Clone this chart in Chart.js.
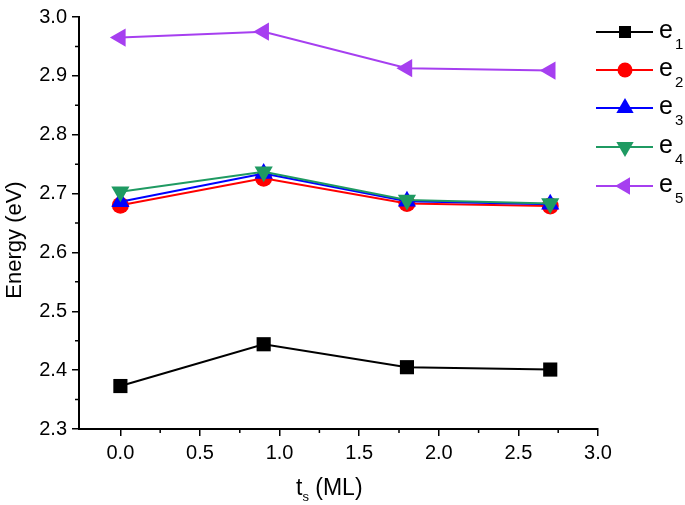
<!DOCTYPE html>
<html lang="en">
<head>
    <meta charset="UTF-8">
    <title>Energy vs ts</title>
    <script src="https://cdn.jsdelivr.net/npm/chart.js"></script>
    <style>
        body {
            margin: 0;
            padding: 0;
            background: white;
        }
        .chart-box {
            width: 685px;
            height: 505px;
        }
    </style>
</head>
<body>
    <div class="chart-box">
        <canvas id="energyChart" width="685" height="505"></canvas>
    </div>

    <script>
        // values
        const thickness = [0.0, 0.9, 1.8, 2.7];
        const e1 = [2.373, 2.444, 2.405, 2.401];
        const e2 = [2.680, 2.726, 2.683, 2.679];
        const e3 = [2.686, 2.734, 2.687, 2.682];
        const e4 = [2.703, 2.737, 2.689, 2.683];
        const e5 = [2.965, 2.975, 2.913, 2.909];
        const seriesNames = ['1', '2', '3', '4', '5'];
        const xTicks = [0.0, 0.5, 1.0, 1.5, 2.0, 2.5, 3.0];
        const yTicks = [2.3, 2.4, 2.5, 2.6, 2.7, 2.8, 2.9, 3.0];

        const FONT = 'Arial, "Liberation Sans", sans-serif';

        function points(ys) {
            return thickness.map((x, i) => ({ x: x, y: ys[i] }));
        }

        const styles = [
            { color: '#000000', pointStyle: 'rect', rotation: 0, radius: 10, legendRadius: 8.5, order: 4 },
            { color: '#ff0000', pointStyle: 'circle', rotation: 0, radius: 8.5, legendRadius: 7.5, order: 3 },
            { color: '#0000ff', pointStyle: 'triangle', rotation: 0, radius: 10.5, legendRadius: 10, order: 2 },
            { color: '#1f9a62', pointStyle: 'triangle', rotation: 180, radius: 10.5, legendRadius: 10, order: 1 },
            { color: '#a63ff0', pointStyle: 'triangle', rotation: -90, radius: 10.5, legendRadius: 10, order: 0 }
        ];

        const allSeries = [e1, e2, e3, e4, e5];

        const datasets = allSeries.map((ys, i) => ({
            label: 'e' + seriesNames[i],
            data: points(ys),
            borderColor: styles[i].color,
            backgroundColor: styles[i].color,
            borderWidth: 2,
            pointStyle: styles[i].pointStyle,
            rotation: styles[i].rotation,
            pointRadius: styles[i].radius,
            pointBorderWidth: 0,
            order: styles[i].order,
            tension: 0
        }));

        // minor ticks, axis titles with subscripts, and the legend
        const extras = {
            id: 'extras',
            afterDraw(chart) {
                const ctx = chart.ctx;
                const xs = chart.scales.x;
                const ys = chart.scales.y;
                const area = chart.chartArea;
                ctx.save();
                ctx.strokeStyle = '#000';
                ctx.lineWidth = 1.5;
                ctx.beginPath();
                for (let v = 0.25; v < 3; v += 0.5) {
                    const px = xs.getPixelForValue(v);
                    ctx.moveTo(px, area.bottom);
                    ctx.lineTo(px, area.bottom + 4);
                }
                for (let v = 2.35; v < 3; v += 0.1) {
                    const py = ys.getPixelForValue(v);
                    ctx.moveTo(area.left, py);
                    ctx.lineTo(area.left - 4, py);
                }
                ctx.stroke();

                // x title: t_s (ML)
                ctx.fillStyle = '#000';
                ctx.textBaseline = 'alphabetic';
                ctx.textAlign = 'left';
                ctx.font = '23px ' + FONT;
                const tx = 296, ty = 495;
                ctx.fillText('t', tx, ty);
                const tw = ctx.measureText('t').width;
                ctx.font = '13px ' + FONT;
                ctx.fillText('s', tx + tw, ty + 6);
                const sw = ctx.measureText('s').width;
                ctx.font = '23px ' + FONT;
                ctx.fillText(' (ML)', tx + tw + sw, ty);

                // y title
                ctx.save();
                ctx.translate(21, 240);
                ctx.rotate(-Math.PI / 2);
                ctx.textAlign = 'center';
                ctx.font = '22px ' + FONT;
                ctx.fillText('Energy (eV)', 0, 0);
                ctx.restore();

                // legend
                const rowY = [32, 70, 108, 147, 186];
                datasets.forEach((ds, i) => {
                    const y = rowY[i];
                    ctx.strokeStyle = ds.borderColor;
                    ctx.lineWidth = 2;
                    ctx.beginPath();
                    ctx.moveTo(596, y);
                    ctx.lineTo(653, y);
                    ctx.stroke();
                    ctx.fillStyle = ds.backgroundColor;
                    Chart.helpers.drawPoint(ctx, {
                        pointStyle: ds.pointStyle,
                        rotation: ds.rotation,
                        radius: styles[i].legendRadius,
                        borderWidth: 0
                    }, 625, y);
                    ctx.fillStyle = '#000';
                    ctx.font = '25px ' + FONT;
                    ctx.fillText('e', 659, y + 6);
                    ctx.font = '15px ' + FONT;
                    ctx.fillText(seriesNames[i], 675, y + 17);
                });
                ctx.restore();
            }
        };

        new Chart(document.getElementById('energyChart'), {
            type: 'line',
            data: { datasets: datasets },
            options: {
                responsive: false,
                animation: false,
                layout: { padding: { top: 10, right: 87, left: 0, bottom: 0 } },
                plugins: {
                    legend: { display: false },
                    tooltip: { enabled: false }
                },
                scales: {
                    x: {
                        type: 'linear',
                        min: -0.26,
                        max: 3.0,
                        afterBuildTicks: (scale) => {
                            scale.ticks = xTicks.map(v => ({ value: v }));
                        },
                        afterFit: (scale) => { scale.height = 76; },
                        ticks: {
                            color: '#000',
                            font: { family: FONT, size: 20 },
                            padding: 5,
                            maxRotation: 0,
                            callback: (v) => Number(v).toFixed(1)
                        },
                        grid: {
                            drawOnChartArea: false,
                            drawTicks: true,
                            tickLength: 7,
                            color: '#000',
                            lineWidth: 1.5
                        },
                        border: { display: true, color: '#000', width: 2 }
                    },
                    y: {
                        type: 'linear',
                        min: 2.3,
                        max: 3.0,
                        afterBuildTicks: (scale) => {
                            scale.ticks = yTicks.map(v => ({ value: v }));
                        },
                        afterFit: (scale) => { scale.width = 79; },
                        ticks: {
                            color: '#000',
                            font: { family: FONT, size: 20 },
                            padding: 5,
                            callback: (v) => Number(v).toFixed(1)
                        },
                        grid: {
                            drawOnChartArea: false,
                            drawTicks: true,
                            tickLength: 7,
                            color: '#000',
                            lineWidth: 1.5
                        },
                        border: { display: true, color: '#000', width: 2 }
                    }
                }
            },
            plugins: [extras]
        });
    </script>
</body>
</html>
